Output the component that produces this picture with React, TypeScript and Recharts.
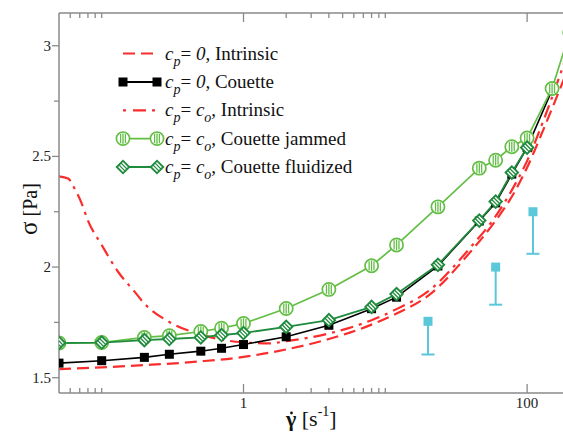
import React from 'react';
import { ComposedChart, Line, Scatter, ErrorBar, XAxis, YAxis } from 'recharts';

// shear rate (1/s) and stress (Pa)
const rateIntrinsic0 = [0.05, 0.1, 0.2, 0.5, 1, 2, 4, 8, 12, 20, 40, 60, 80, 100, 130, 182];
const sigmaIntrinsic0 = [1.539, 1.547, 1.557, 1.574, 1.594, 1.628, 1.675, 1.74, 1.79, 1.87, 2.07, 2.21, 2.33, 2.45, 2.62, 2.85];

const rateIntrinsicCo = [0.05, 0.058, 0.065, 0.072, 0.08, 0.1, 0.13, 0.17, 0.2, 0.3, 0.5, 0.7, 1, 1.5, 2, 4, 8, 12, 20, 40, 60, 80, 100, 130, 182];
const sigmaIntrinsicCo = [2.41, 2.4, 2.35, 2.29, 2.21, 2.1, 1.98, 1.89, 1.835, 1.752, 1.695, 1.672, 1.66, 1.655, 1.665, 1.7, 1.76, 1.81, 1.89, 2.09, 2.23, 2.36, 2.48, 2.66, 2.92];

const rateCouette0 = [0.05, 0.1, 0.2, 0.3, 0.5, 0.7, 1, 2, 4, 8, 12, 23.5, 46, 60, 78, 100, 150];
const sigmaCouette0 = [1.566, 1.577, 1.592, 1.606, 1.62, 1.633, 1.65, 1.685, 1.737, 1.812, 1.864, 2.005, 2.208, 2.29, 2.42, 2.54, 2.8];

const rateJammed = [0.05, 0.1, 0.2, 0.3, 0.5, 0.7, 1, 2, 4, 8, 12, 23.5, 46, 60, 78, 100, 150, 200];
const sigmaJammed = [1.657, 1.659, 1.682, 1.69, 1.709, 1.724, 1.745, 1.813, 1.899, 2.006, 2.1, 2.272, 2.447, 2.483, 2.544, 2.583, 2.807, 3.06];

const rateFluid = [0.05, 0.1, 0.2, 0.3, 0.5, 0.7, 1, 2, 4, 8, 12, 23.5, 46, 60, 78, 100];
const sigmaFluid = [1.657, 1.659, 1.67, 1.675, 1.682, 1.693, 1.702, 1.73, 1.76, 1.82, 1.878, 2.01, 2.21, 2.296, 2.427, 2.54];

const rateExp = [20, 60, 110];
const sigmaExp = [1.755, 2.0, 2.25];
const sigmaExpLow = [1.605, 1.83, 2.06];

const xTicks = [0.06, 0.07, 0.08, 0.09, 0.1, 1, 2, 3, 4, 5, 6, 7, 8, 9, 10, 100];
const xLabels = [1, 100];
const yTicks = [1.5, 1.75, 2, 2.25, 2.5, 2.75, 3];
const yLabels = [1.5, 2, 2.5, 3];

const RED = '#fa2d2d';
const LIGHT_GREEN = '#63be45';
const DARK_GREEN = '#1f8b3d';
const CYAN = '#5bc7da';
const AXIS = '#8a8a8a';
const FONT = "'Liberation Serif', 'Times New Roman', Times, serif";
const serif = { fontFamily: FONT };

const toPoints = (xs: number[], ys: number[]) => xs.map((x, i) => ({ x, y: ys[i] }));

const intrinsic0 = toPoints(rateIntrinsic0, sigmaIntrinsic0);
const intrinsicCo = toPoints(rateIntrinsicCo, sigmaIntrinsicCo);
const couette0 = toPoints(rateCouette0, sigmaCouette0);
const jammed = toPoints(rateJammed, sigmaJammed);
const fluid = toPoints(rateFluid, sigmaFluid);
const expTop = rateExp.map((x, i) => ({ x, y: sigmaExp[i], err: [sigmaExp[i] - sigmaExpLow[i], 0] }));
const expLow = toPoints(rateExp, sigmaExpLow);

// markers
const SquareMark = ({ cx, cy }: any) => <rect x={cx - 4.5} y={cy - 4.5} width={9} height={9} fill="#000" />;

const JammedMark = ({ cx, cy }: any) => (
  <g>
    <circle cx={cx} cy={cy} r={6.6} fill="#fff" stroke={LIGHT_GREEN} strokeWidth={1.7} />
    <line x1={cx - 2.4} x2={cx - 2.4} y1={cy - 4.6} y2={cy + 4.6} stroke={LIGHT_GREEN} strokeWidth={1.3} />
    <line x1={cx} x2={cx} y1={cy - 5.3} y2={cy + 5.3} stroke={LIGHT_GREEN} strokeWidth={1.3} />
    <line x1={cx + 2.4} x2={cx + 2.4} y1={cy - 4.6} y2={cy + 4.6} stroke={LIGHT_GREEN} strokeWidth={1.3} />
  </g>
);

const FluidMark = ({ cx, cy }: any) => (
  <g transform={`translate(${cx},${cy}) rotate(45)`}>
    <rect x={-4.4} y={-4.4} width={8.8} height={8.8} fill="#fff" stroke={DARK_GREEN} strokeWidth={1.9} />
    <line x1={-4.4} x2={4.4} y1={-1.4} y2={-1.4} stroke={DARK_GREEN} strokeWidth={1.3} />
    <line x1={-4.4} x2={4.4} y1={1.4} y2={1.4} stroke={DARK_GREEN} strokeWidth={1.3} />
  </g>
);

const ExpSquare = ({ cx, cy }: any) => <rect x={cx - 4.5} y={cy - 4.5} width={9} height={9} fill={CYAN} />;
const ExpCap = ({ cx, cy }: any) => <line x1={cx - 6.5} x2={cx + 6.5} y1={cy} y2={cy} stroke={CYAN} strokeWidth={2} />;

// ticks: inward on x, outward on the left y axis
const BottomTick = ({ x, y, payload }: any) => {
  const v = payload.value;
  const major = xLabels.includes(v);
  return (
    <g>
      <line x1={x} x2={x} y1={y} y2={y - (major ? 9 : 5)} stroke={AXIS} strokeWidth={1.3} />
      {major && (
        <text x={x} y={y + 15} textAnchor="middle" style={serif} fontSize={15} fill="#222">
          {v}
        </text>
      )}
    </g>
  );
};

const TopTick = ({ x, y, payload }: any) => {
  const major = xLabels.includes(payload.value);
  return <line x1={x} x2={x} y1={y} y2={y + (major ? 9 : 5)} stroke={AXIS} strokeWidth={1.3} />;
};

const LeftTick = ({ x, y, payload }: any) => {
  const v = payload.value;
  const major = yLabels.includes(v);
  return (
    <g>
      <line x1={x} x2={x - (major ? 7 : 5)} y1={y} y2={y} stroke={AXIS} strokeWidth={1.3} />
      {major && (
        <text x={x - 8} y={y + 5} textAnchor="end" style={serif} fontSize={15} fill="#222">
          {v}
        </text>
      )}
    </g>
  );
};

const RightTick = ({ x, y, payload }: any) => {
  const major = yLabels.includes(payload.value);
  return <line x1={x} x2={x - (major ? 7 : 4)} y1={y} y2={y} stroke={AXIS} strokeWidth={1.3} />;
};

const legendRows = [
  { sample: 'dash', sub: 'p', rhs: '0', tail: ', Intrinsic' },
  { sample: 'square', sub: 'p', rhs: '0', tail: ', Couette' },
  { sample: 'dashdot', sub: 'p', rhs: 'c', rhsSub: 'o', tail: ', Intrinsic' },
  { sample: 'jammed', sub: 'p', rhs: 'c', rhsSub: 'o', tail: ', Couette jammed' },
  { sample: 'fluid', sub: 'p', rhs: 'c', rhsSub: 'o', tail: ', Couette fluidized' },
];

function LegendSample({ kind, y }: { kind: string; y: number }) {
  const x1 = 123;
  const x2 = 157;
  if (kind === 'dash') return <line x1={x1} x2={x2} y1={y} y2={y} stroke={RED} strokeWidth={2.2} strokeDasharray="12 6" />;
  if (kind === 'dashdot') return <line x1={x1} x2={x2} y1={y} y2={y} stroke={RED} strokeWidth={2.2} strokeDasharray="3 7 13 6 3" />;
  const color = kind === 'square' ? '#000' : kind === 'jammed' ? LIGHT_GREEN : DARK_GREEN;
  const Mark = kind === 'square' ? SquareMark : kind === 'jammed' ? JammedMark : FluidMark;
  return (
    <g>
      <line x1={x1} x2={x2} y1={y} y2={y} stroke={color} strokeWidth={1.8} />
      <Mark cx={x1} cy={y} />
      <Mark cx={x2} cy={y} />
    </g>
  );
}

function Overlay() {
  const rowY = [53.5, 82, 110.3, 138.6, 167];
  return (
    <svg width={563} height={442} style={{ position: 'absolute', left: 0, top: 0, pointerEvents: 'none' }}>
      {legendRows.map((r, i) => (
        <g key={i}>
          <LegendSample kind={r.sample} y={rowY[i]} />
          <text x={165} y={rowY[i] + 6} style={serif} fontSize={19} fill="#111">
            <tspan fontStyle="italic">c</tspan>
            <tspan fontStyle="italic" fontSize={14} dy={6}>{r.sub}</tspan>
            <tspan dy={-6}>= </tspan>
            <tspan fontStyle="italic">{r.rhs}</tspan>
            {r.rhsSub && <tspan fontStyle="italic" fontSize={14} dy={6}>{r.rhsSub}</tspan>}
            <tspan dy={r.rhsSub ? -6 : 0}>{r.tail}</tspan>
          </text>
        </g>
      ))}
      {/* axis titles */}
      <text x={37} y={209} transform="rotate(-90 37 209)" textAnchor="middle" style={serif} fill="#111">
        <tspan fontSize={25}>σ</tspan>
        <tspan fontSize={20}> [Pa]</tspan>
      </text>
      <text x={286} y={426} style={serif} fontSize={22} fill="#111">
        <tspan fontWeight="bold">γ</tspan>
        <tspan> [s</tspan>
        <tspan fontSize={14} dy={-10}>-1</tspan>
        <tspan dy={10}>]</tspan>
      </text>
      <circle cx={291.5} cy={413} r={1.4} fill="#111" />
    </svg>
  );
}

export default function App() {
  const xDomain = [0.05, 182];
  const yDomain = [1.431, 3.148];
  return (
    <div style={{ position: 'absolute', left: 0, top: 0, width: 563, height: 442, overflow: 'hidden', background: '#fff' }}>
      <ComposedChart width={566} height={442} margin={{ top: 12, right: 2, bottom: 0, left: 0 }}>
        <XAxis
          dataKey="x"
          type="number"
          scale="log"
          domain={xDomain}
          allowDataOverflow
          ticks={xTicks}
          interval={0}
          height={49}
          tickSize={0}
          tickMargin={0}
          tick={<BottomTick />}
          axisLine={{ stroke: AXIS, strokeWidth: 1.5 }}
        />
        <XAxis
          xAxisId="top"
          orientation="top"
          dataKey="x"
          type="number"
          scale="log"
          domain={xDomain}
          allowDataOverflow
          ticks={xTicks}
          interval={0}
          height={1}
          tickSize={0}
          tickMargin={0}
          tick={<TopTick />}
          axisLine={{ stroke: AXIS, strokeWidth: 1.5 }}
        />
        <YAxis
          type="number"
          domain={yDomain}
          allowDataOverflow
          ticks={yTicks}
          interval={0}
          width={59}
          tickSize={0}
          tickMargin={0}
          tick={<LeftTick />}
          axisLine={{ stroke: AXIS, strokeWidth: 1.5 }}
        />
        <YAxis
          yAxisId="right"
          orientation="right"
          type="number"
          domain={yDomain}
          allowDataOverflow
          ticks={yTicks}
          interval={0}
          width={0}
          tickSize={0}
          tickMargin={0}
          tick={<RightTick />}
          axisLine={{ stroke: AXIS, strokeWidth: 1.5 }}
        />
        <Line data={intrinsic0} dataKey="y" type="monotone" stroke={RED} strokeWidth={2.2} strokeDasharray="12 6" dot={false} isAnimationActive={false} />
        <Line data={intrinsicCo} dataKey="y" type="monotone" stroke={RED} strokeWidth={2.2} strokeDasharray="13 6 3 6" dot={false} isAnimationActive={false} />
        <Line
          data={couette0}
          dataKey="y"
          type="linear"
          stroke="#000"
          strokeWidth={1.6}
          dot={(p: any) => <SquareMark key={`s${p.index}`} cx={p.cx} cy={p.cy} />}
          isAnimationActive={false}
        />
        <Line
          data={jammed}
          dataKey="y"
          type="linear"
          stroke={LIGHT_GREEN}
          strokeWidth={1.7}
          dot={(p: any) => <JammedMark key={`j${p.index}`} cx={p.cx} cy={p.cy} />}
          isAnimationActive={false}
        />
        <Line
          data={fluid}
          dataKey="y"
          type="linear"
          stroke={DARK_GREEN}
          strokeWidth={1.8}
          dot={(p: any) => <FluidMark key={`f${p.index}`} cx={p.cx} cy={p.cy} />}
          isAnimationActive={false}
        />
        {/* experimental points share the x scale; attached to the top axis so it gets drawn */}
        <Scatter xAxisId="top" data={expTop} dataKey="y" shape={<ExpSquare />} isAnimationActive={false}>
          <ErrorBar dataKey="err" direction="y" width={0} stroke={CYAN} strokeWidth={2} />
        </Scatter>
        <Scatter xAxisId="top" data={expLow} dataKey="y" shape={<ExpCap />} isAnimationActive={false} />
      </ComposedChart>
      <Overlay />
    </div>
  );
}
